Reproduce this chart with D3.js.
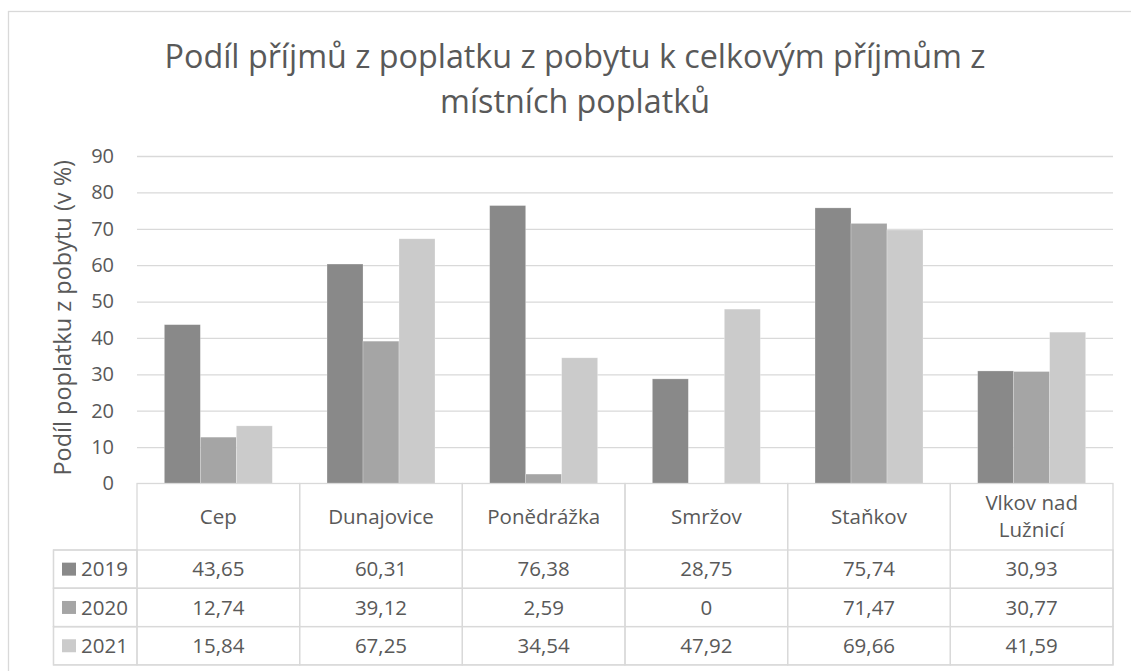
<!DOCTYPE html>
<html>
<head>
<meta charset="utf-8">
<title>Podíl příjmů z poplatku z pobytu</title>
<script src="https://cdnjs.cloudflare.com/ajax/libs/d3/7.8.5/d3.min.js"></script>
<style>
body { margin: 0; background: #fff; }
text { font-family: "Open Sans", sans-serif; fill: #595959; }
.grid line { stroke: #d9d9d9; stroke-width: 1.3; }
.grid path { display: none; }
.axis--y path, .axis--y line { display: none; }
.cell { stroke: #d9d9d9; stroke-width: 1.3; fill: none; }
</style>
</head>
<body>
<svg id="vis" width="1131" height="671"></svg>
<script>
// data
var categories = ['Cep', 'Dunajovice', 'Ponědrážka', 'Smržov', 'Staňkov', 'Vlkov nad Lužnicí'];
var years = ['2019', '2020', '2021'];
var v2019 = [43.65, 60.31, 76.38, 28.75, 75.74, 30.93];
var v2020 = [12.74, 39.12, 2.59, 0, 71.47, 30.77];
var v2021 = [15.84, 67.25, 34.54, 47.92, 69.66, 41.59];
var yTicks = [0, 10, 20, 30, 40, 50, 60, 70, 80, 90];
var colors = ['#898989', '#a5a5a5', '#cbcbcb'];

var series = [v2019, v2020, v2021];

var svg = d3.select('#vis');

var plotLeft = 137, plotRight = 1113, plotTop = 156, plotBottom = 483.5;
var headerH = 66.5, rowH = 38.3, legendLeft = 53.5;

var cz = d3.formatLocale({decimal: ',', thousands: ' ', grouping: [3], currency: ['', ' Kč']});
var fmt = cz.format('.2~f');

// chart border
svg.append('rect')
  .attr('x', 8.5).attr('y', 11.5)
  .attr('width', 1140).attr('height', 680)
  .style('fill', 'none').style('stroke', '#d9d9d9').style('stroke-width', 1.3);

// title
svg.append('text')
  .attr('x', 575).attr('y', 68)
  .style('text-anchor', 'middle').style('font-size', '32.3px')
  .text('Podíl příjmů z poplatku z pobytu k celkovým příjmům z');
svg.append('text')
  .attr('x', 575).attr('y', 113)
  .style('text-anchor', 'middle').style('font-size', '32.3px')
  .text('místních poplatků');

var x0 = d3.scaleBand()
  .domain(categories)
  .range([plotLeft, plotRight]);

var x1 = d3.scaleBand()
  .domain(years)
  .range([0, x0.bandwidth()])
  .paddingOuter(0.76);

var y = d3.scaleLinear()
  .domain([0, 90])
  .range([plotBottom, plotTop]);

// gridlines
svg.append('g')
  .attr('class', 'grid')
  .attr('transform', `translate(${plotLeft},0)`)
  .call(d3.axisLeft(y).tickValues(yTicks.slice(1)).tickSize(-(plotRight - plotLeft)).tickFormat(''));

// y tick labels
svg.append('g')
  .attr('class', 'axis--y')
  .attr('transform', `translate(${plotLeft - 14},0)`)
  .call(d3.axisLeft(y).tickValues(yTicks).tickSize(0).tickPadding(9))
  .selectAll('text')
    .style('font-size', '20px')
    .style('font-family', '"Open Sans", sans-serif')
    .style('fill', '#595959');

// y axis title
svg.append('text')
  .attr('transform', `translate(71, ${(plotTop + plotBottom) / 2 - 2}) rotate(-90)`)
  .style('text-anchor', 'middle').style('font-size', '23.5px')
  .text('Podíl poplatku z pobytu (v %)');

// bars
var groups = svg.selectAll('.group')
  .data(categories)
  .enter().append('g')
    .attr('class', 'group')
    .attr('transform', d => `translate(${x0(d)},0)`);

groups.selectAll('rect')
  .data((d, i) => years.map((yr, j) => ({year: yr, value: series[j][i], color: colors[j]})))
  .enter().append('rect')
    .attr('x', d => x1(d.year))
    .attr('width', x1.bandwidth())
    .attr('y', d => y(d.value))
    .attr('height', d => y(0) - y(d.value))
    .style('fill', d => d.color)
    .style('stroke', '#ffffff')
    .style('stroke-opacity', 0.35)
    .style('stroke-width', 0.7);

// data table
var table = svg.append('g');
var tableBottom = plotBottom + headerH + rowH * years.length;

// header cells
categories.forEach(function(c) {
  table.append('rect')
    .attr('class', 'cell')
    .attr('x', x0(c)).attr('y', plotBottom)
    .attr('width', x0.bandwidth()).attr('height', tableBottom - plotBottom);
  var words = c === 'Vlkov nad Lužnicí' ? ['Vlkov nad', 'Lužnicí'] : [c];
  var cx = x0(c) + x0.bandwidth() / 2;
  var cy = plotBottom + headerH / 2;
  words.forEach(function(w, k) {
    table.append('text')
      .attr('x', cx)
      .attr('y', cy + (k - (words.length - 1) / 2) * 27)
      .attr('dy', '0.35em')
      .style('text-anchor', 'middle').style('font-size', '20.5px')
      .text(w);
  });
});

// value rows
years.forEach(function(yr, j) {
  var ry = plotBottom + headerH + rowH * j;
  table.append('rect')
    .attr('class', 'cell')
    .attr('x', legendLeft).attr('y', ry)
    .attr('width', plotRight - legendLeft).attr('height', rowH);
  table.append('rect')
    .attr('class', 'cell')
    .attr('x', legendLeft).attr('y', ry)
    .attr('width', plotLeft - legendLeft).attr('height', rowH);
  table.append('rect')
    .attr('x', 62).attr('y', ry + rowH / 2 - 6.5)
    .attr('width', 14).attr('height', 13)
    .style('fill', colors[j]);
  table.append('text')
    .attr('x', 81).attr('y', ry + rowH / 2)
    .attr('dy', '0.35em')
    .style('font-size', '20.5px')
    .text(yr);
  categories.forEach(function(c, i) {
    table.append('text')
      .attr('x', x0(c) + x0.bandwidth() / 2)
      .attr('y', ry + rowH / 2)
      .attr('dy', '0.35em')
      .style('text-anchor', 'middle').style('font-size', '20.5px')
      .text(fmt(series[j][i]));
  });
});
</script>
</body>
</html>
